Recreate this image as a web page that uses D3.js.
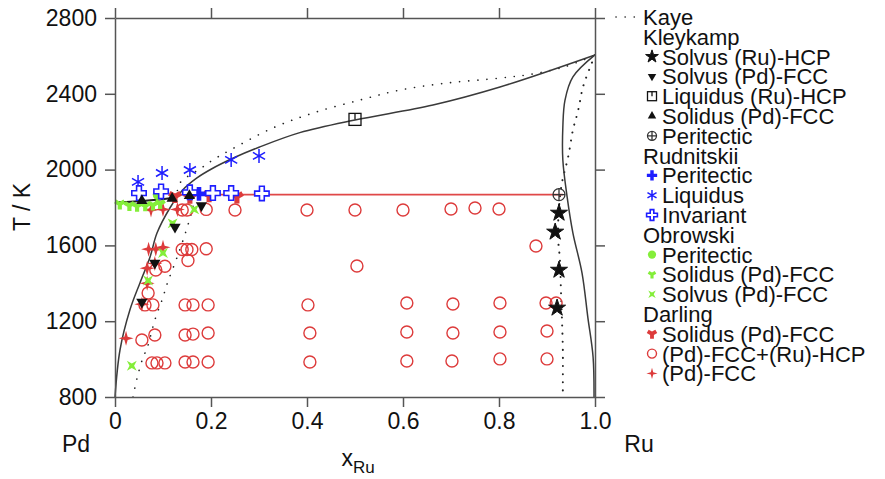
<!DOCTYPE html>
<html><head><meta charset="utf-8">
<script src="https://cdn.jsdelivr.net/npm/d3@7"></script>
<style>body{margin:0;background:#fff} text{font-family:"Liberation Sans",Arial,sans-serif;fill:#111}</style>
</head><body><svg id="c" width="885" height="479"></svg>
<script>
// ---------- data ----------
const xTicks = [0, 0.2, 0.4, 0.6, 0.8, 1.0];
const xTickLabels = ["0", "0.2", "0.4", "0.6", "0.8", "1.0"];
const yTicks = [800, 1200, 1600, 2000, 2400, 2800];

// phase-boundary curves [xRu, T]
const liquidusCurve = [[0,800],[0.0104,1048],[0.031,1259],[0.052,1402],[0.073,1539],[0.0875,1665],[0.115,1800],[0.14,1890],[0.17,1955],[0.2,2002],[0.25,2065],[0.3,2118],[0.385,2195],[0.5,2262],[0.6625,2341],[0.802,2436],[1.0,2605]];
const pdLiquidus = [[0,1828],[0.04,1832],[0.08,1840],[0.125,1852]];
const ruSide = [[1.0,2605],[0.954,2489],[0.9375,2367],[0.933,2225],[0.933,2051],[0.942,1855],[0.954,1665],[0.973,1454],[0.985,1222],[0.996,1011],[0.998,800]];
const kayeSolvusPd = [[0.0375,800],[0.046,900],[0.058,1006],[0.067,1059],[0.083,1206],[0.098,1312],[0.11,1407],[0.131,1549],[0.152,1708],[0.162,1800],[0.165,1860]];
const kayeLiquidus = [[0.13,1890],[0.135,1929],[0.183,2014],[0.204,2051],[0.24,2103],[0.329,2220],[0.413,2299],[0.51,2367],[0.594,2420],[0.692,2457],[0.802,2483],[0.871,2505],[0.94,2545],[1.0,2605]];
const kayeRu = [[1.0,2605],[0.99,2541],[0.975,2436],[0.965,2314],[0.954,2209],[0.944,2066],[0.931,1929],[0.925,1800],[0.923,1644],[0.927,1523],[0.929,1364],[0.931,1222],[0.933,1048],[0.933,874],[0.933,800]];
const peritecticLine = [[0.12,1868],[0.933,1868]];

// Kleykamp
const kleykampSolvusRu = [[0.925,1771],[0.917,1671],[0.925,1470],[0.921,1270]];
const kleykampSolvusPd = [[0.056,1301],[0.083,1507],[0.125,1697],[0.18,1810]];
const kleykampLiquidusRu = [[0.5,2265]];
const kleykampSolidusPd = [[0.056,1835],[0.119,1848],[0.155,1862]];
const kleykampPeritectic = [[0.925,1868]];
// Rudnitskii
const rudnitskiiPeritectic = [[0.175,1872]];
const rudnitskiiLiquidus = [[0.048,1935],[0.098,1982],[0.156,1998],[0.242,2051],[0.3,2072]];
const rudnitskiiInvariant = [[0.05,1876],[0.096,1885],[0.156,1880],[0.204,1876],[0.242,1876],[0.306,1874]];
// Obrowski
const obrowskiPeritectic = [[0.09,1868]];
const obrowskiSolidus = [[0.01,1818],[0.03,1810],[0.046,1806],[0.063,1808],[0.079,1812],[0.094,1820]];
const obrowskiSolvus = [[0.035,965],[0.069,1415],[0.1,1560],[0.12,1716],[0.165,1790]];
// Darling
const darlingSolidus = [[0.125,1858],[0.156,1855],[0.196,1862],[0.254,1856]];
const darlingTwoPhase = [
  [0.14,1787],[0.15,1787],[0.19,1790],[0.25,1787],[0.40,1787],[0.50,1787],[0.60,1787],[0.70,1792],[0.75,1797],[0.80,1792],
  [0.14,1578],[0.15,1578],[0.16,1578],[0.19,1582],[0.877,1597],[0.504,1491],[0.104,1490],[0.085,1470],[0.152,1520],[0.069,1349],
  [0.0625,1286],[0.079,1286],[0.146,1286],[0.1625,1286],[0.194,1286],[0.402,1286],[0.608,1296],[0.704,1291],[0.802,1296],[0.898,1296],[0.919,1296],
  [0.056,1101],[0.083,1127],[0.146,1127],[0.1625,1132],[0.194,1138],[0.406,1138],[0.608,1143],[0.704,1138],[0.802,1143],[0.9,1148],
  [0.077,980],[0.0875,980],[0.104,980],[0.146,985],[0.1625,985],[0.194,985],[0.406,985],[0.608,990],[0.702,990],[0.802,1001],[0.9,1001]
];
const darlingFcc = [[0.075,1787],[0.1,1790],[0.13,1790],[0.07,1580],[0.085,1580],[0.1,1590],[0.067,1480],[0.083,1505],[0.067,1400],[0.056,1290],[0.023,1110]];

// ---------- drawing ----------
const svg = d3.select("#c");
const x = d3.scaleLinear([0, 1], [115, 595]);
const y = d3.scaleLinear([800, 2800], [397, 18]);
const FS = 23, LFS = 22;
const RED = "#dd3b3b", BLUE = "#1e1eff", GREEN = "#84ee3a", BLK = "#111";

const line = d3.line().x(d => x(d[0])).y(d => y(d[1])).curve(d3.curveCatmullRom.alpha(0.5));
const curves = svg.append("g").attr("fill", "none");
curves.append("path").attr("d", line(kayeSolvusPd)).attr("stroke", "#222").attr("stroke-width", 1.6).attr("stroke-dasharray", "0.1 9").attr("stroke-linecap", "round");
curves.append("path").attr("d", line(kayeLiquidus)).attr("stroke", "#222").attr("stroke-width", 1.6).attr("stroke-dasharray", "0.1 9").attr("stroke-linecap", "round");
curves.append("path").attr("d", line(kayeRu)).attr("stroke", "#222").attr("stroke-width", 2).attr("stroke-dasharray", "0.1 8").attr("stroke-linecap", "round");
curves.append("path").attr("d", line(liquidusCurve)).attr("stroke", "#3a3a3a").attr("stroke-width", 1.5);
curves.append("path").attr("d", line(pdLiquidus)).attr("stroke", "#222").attr("stroke-width", 2);
curves.append("path").attr("d", line(ruSide)).attr("stroke", "#3a3a3a").attr("stroke-width", 1.5);
curves.append("path").attr("d", d3.line().x(d => x(d[0])).y(d => y(d[1]))(peritecticLine)).attr("stroke", "#e04848").attr("stroke-width", 1.6);

// marker painter
function star4(R, r, rot) {
  const pts = [];
  for (let i = 0; i < 8; i++) {
    const a = rot + i * Math.PI / 4, rr = i % 2 ? r : R;
    pts.push([rr * Math.sin(a), -rr * Math.cos(a)]);
  }
  return "M" + pts.map(p => p.join(",")).join("L") + "Z";
}
function marker(g, kind, color, s) {
  switch (kind) {
    case "star": g.append("path").attr("d", d3.symbol(d3.symbolStar, 90 * s * s)()).attr("fill", color).attr("stroke", color).attr("stroke-width", 1).attr("stroke-linejoin", "round"); break;
    case "tridown": g.append("path").attr("d", d3.symbol(d3.symbolTriangle, 55 * s * s)()).attr("transform", "rotate(180)").attr("fill", color); break;
    case "triup": g.append("path").attr("d", d3.symbol(d3.symbolTriangle, 55 * s * s)()).attr("fill", color); break;
    case "square": {
      const h = 6 * s;
      g.append("rect").attr("x", -h).attr("y", -h).attr("width", 2 * h).attr("height", 2 * h).attr("fill", "none").attr("stroke", color).attr("stroke-width", 1.3);
      g.append("line").attr("x1", 0).attr("x2", 0).attr("y1", -h).attr("y2", 0).attr("stroke", color).attr("stroke-width", 1.3);
      break; }
    case "oplus": {
      const r = 6 * s;
      g.append("circle").attr("r", r).attr("fill", "none").attr("stroke", color).attr("stroke-width", 1.3);
      g.append("path").attr("d", `M${-r},0H${r}M0,${-r}V${r}`).attr("stroke", color).attr("stroke-width", 1.3);
      break; }
    case "crossfill": g.append("path").attr("d", d3.symbol(d3.symbolCross, 105 * s * s)()).attr("fill", color); break;
    case "crossopen": g.append("path").attr("d", d3.symbol(d3.symbolCross, 115 * s * s)()).attr("fill", "#fff").attr("stroke", color).attr("stroke-width", 1.6); break;
    case "asterisk": {
      const r = 7 * s;
      let d = "";
      for (let i = 0; i < 3; i++) { const a = i * Math.PI / 3; d += `M${-r * Math.sin(a)},${r * Math.cos(a)}L${r * Math.sin(a)},${-r * Math.cos(a)}`; }
      g.append("path").attr("d", d).attr("stroke", color).attr("stroke-width", 1.5);
      break; }
    case "dot": g.append("circle").attr("r", 5.5 * s).attr("fill", color); break;
    case "wye": g.append("path").attr("d", d3.symbol(d3.symbolWye, 60 * s * s)()).attr("fill", color); break;
    case "wyefat": g.append("path").attr("d", d3.symbol(d3.symbolWye, 90 * s * s)()).attr("fill", color); break;
    case "xstar": g.append("path").attr("d", star4(7 * s, 2.3 * s, Math.PI / 4)).attr("fill", color); break;
    case "pstar": g.append("path").attr("d", star4(7.5 * s, 2.3 * s, 0)).attr("fill", color); break;
    case "ocircle": g.append("circle").attr("r", 6 * s).attr("fill", "none").attr("stroke", color).attr("stroke-width", 1.4); break;
  }
}

const groups = [
  {title: "Kleykamp", items: [
    {label: "Solvus (Ru)-HCP", data: kleykampSolvusRu, kind: "star", color: BLK},
    {label: "Solvus (Pd)-FCC", data: kleykampSolvusPd, kind: "tridown", color: BLK},
    {label: "Liquidus (Ru)-HCP", data: kleykampLiquidusRu, kind: "square", color: BLK},
    {label: "Solidus (Pd)-FCC", data: kleykampSolidusPd, kind: "triup", color: BLK},
    {label: "Peritectic", data: kleykampPeritectic, kind: "oplus", color: "#333"}]},
  {title: "Rudnitskii", items: [
    {label: "Peritectic", data: rudnitskiiPeritectic, kind: "crossfill", color: BLUE},
    {label: "Liquidus", data: rudnitskiiLiquidus, kind: "asterisk", color: BLUE},
    {label: "Invariant", data: rudnitskiiInvariant, kind: "crossopen", color: BLUE}]},
  {title: "Obrowski", items: [
    {label: "Peritectic", data: obrowskiPeritectic, kind: "dot", color: GREEN},
    {label: "Solidus (Pd)-FCC", data: obrowskiSolidus, kind: "wye", color: GREEN},
    {label: "Solvus (Pd)-FCC", data: obrowskiSolvus, kind: "xstar", color: GREEN}]},
  {title: "Darling", items: [
    {label: "Solidus (Pd)-FCC", data: darlingSolidus, kind: "wyefat", color: RED},
    {label: "(Pd)-FCC+(Ru)-HCP", data: darlingTwoPhase, kind: "ocircle", color: RED},
    {label: "(Pd)-FCC", data: darlingFcc, kind: "pstar", color: RED}]}
];

// draw points (circles first so others sit on top)
const pts = svg.append("g");
const flat = groups.flatMap(g => g.items);
const order = [12, 13, 11, 8, 9, 10, 5, 6, 7, 0, 1, 3, 2, 4];
order.forEach(i => {
  const it = flat[i];
  it.data.forEach(d => {
    const g = pts.append("g").attr("transform", `translate(${x(d[0])},${y(d[1])})`);
    marker(g, it.kind, it.color, 1);
  });
});

// axes
function styleAxis(g) {
  g.selectAll("path,line").attr("stroke", "#555").attr("stroke-width", 1.5);
  g.selectAll("text").attr("font-size", FS).attr("fill", "#111").attr("font-family", "Liberation Sans, Arial, sans-serif");
}
svg.append("g").attr("transform", `translate(115,0)`)
  .call(d3.axisLeft(y).tickValues(yTicks).tickSize(10).tickSizeOuter(0).tickPadding(8).tickFormat(d3.format("d"))).call(styleAxis);
svg.append("g").attr("transform", `translate(0,397)`)
  .call(d3.axisBottom(x).tickValues(xTicks).tickSize(10).tickSizeOuter(0).tickPadding(6).tickFormat((d, i) => xTickLabels[i])).call(styleAxis);
svg.append("g").attr("transform", `translate(0,18)`)
  .call(d3.axisTop(x).tickValues(xTicks).tickSize(10).tickSizeOuter(0).tickFormat("")).call(styleAxis);
svg.append("g").attr("transform", `translate(595,0)`)
  .call(d3.axisRight(y).tickValues(yTicks).tickSize(10).tickSizeOuter(0).tickFormat("")).call(styleAxis);

// axis titles
svg.append("text").attr("transform", "translate(30,207) rotate(-90)").attr("text-anchor", "middle").attr("font-size", FS).text("T / K");
const xt = svg.append("text").attr("x", 358).attr("y", 466).attr("text-anchor", "middle").attr("font-size", FS);
xt.append("tspan").text("x");
xt.append("tspan").attr("font-size", 17).attr("dy", 7).text("Ru");
svg.append("text").attr("x", 76).attr("y", 452).attr("text-anchor", "middle").attr("font-size", FS).text("Pd");
svg.append("text").attr("x", 639).attr("y", 452).attr("text-anchor", "middle").attr("font-size", FS).text("Ru");

// legend
const leg = svg.append("g");
const rowH = 19.8, y0 = 17;
let row = 0;
function rowY() { return y0 + row * rowH; }
leg.append("line").attr("x1", 616).attr("x2", 642).attr("y1", rowY()).attr("y2", rowY())
  .attr("stroke", "#222").attr("stroke-width", 1.6).attr("stroke-dasharray", "0.1 9").attr("stroke-linecap", "round");
leg.append("text").attr("x", 643).attr("y", rowY() + 8).attr("font-size", LFS).text("Kaye");
row++;
groups.forEach(gr => {
  leg.append("text").attr("x", 643).attr("y", rowY() + 8).attr("font-size", LFS).text(gr.title);
  row++;
  gr.items.forEach(it => {
    const g = leg.append("g").attr("transform", `translate(652,${rowY()})`);
    marker(g, it.kind, it.color, 0.75);
    leg.append("text").attr("x", 662).attr("y", rowY() + 8).attr("font-size", LFS).text(it.label);
    row++;
  });
});
</script></body></html>
